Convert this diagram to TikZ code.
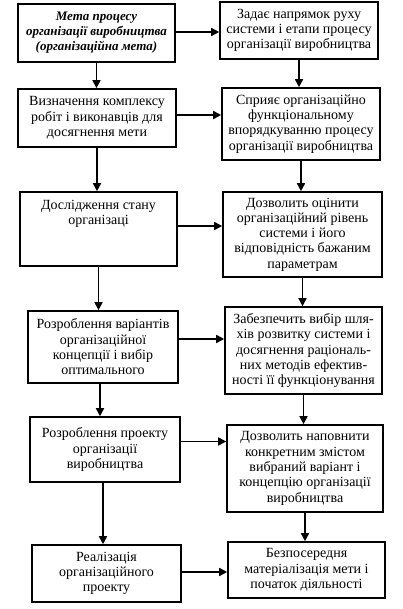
\documentclass[tikz,border=0pt]{standalone}
\usepackage{fontspec}
\setmainfont{Liberation Serif}
\usetikzlibrary{arrows.meta}
\begin{document}
\begin{tikzpicture}[x=1pt,y=-1pt,
  box/.style={draw,line width=1.6pt,inner sep=0pt,align=center,
    font=\fontsize{14}{15.3}\selectfont},
  lbl/.style={inner sep=0pt,align=center,font=\fontsize{14}{15.3}\selectfont},
  arr/.style={line width=1.6pt,-{Triangle[length=8pt,width=8pt]}}]
\useasboundingbox (0,0) rectangle (402,609);
% left column
\node[box,minimum width=157pt,minimum height=58pt,font=\fontsize{13}{15}\selectfont\bfseries\itshape] (L1) at (96.5,33)
  {Мета процесу\\організації виробництва\\(організаційна мета)};
\node[box,minimum width=158pt,minimum height=58pt] (L2) at (97,118)
  {Визначення комплексу\\робіт і виконавців для\\досягнення мети};
\node[box,minimum width=157pt,minimum height=74pt] (L3) at (98.5,229) {};
\node[lbl] (L3t) at (98.5,214) {Дослідження стану\\організаці};
\node[box,minimum width=150pt,minimum height=72pt] (L4) at (103,347)
  {Розроблення варіантів\\організаційної\\концепції і вибір\\оптимального};
\node[box,minimum width=150pt,minimum height=65pt] (L5) at (105,449.5)
  {Розроблення проекту\\організації\\виробництва};
\node[box,minimum width=149pt,minimum height=57pt] (L6) at (106.5,573.5)
  {Реалізація\\організаційного\\проекту};
% right column
\node[box,minimum width=158pt,minimum height=57pt] (R1) at (299,30.5)
  {Задає напрямок руху\\системи і етапи процесу\\організації виробництва};
\node[box,minimum width=158pt,minimum height=72pt] (R2) at (301,124)
  {Сприяє організаційно\\функціональному\\впорядкуванню процесу\\організації виробництва};
\node[box,minimum width=159pt,minimum height=85pt] (R3) at (302.5,234.5)
  {Дозволить оцінити\\організаційний рівень\\системи і його\\відповідність бажаним\\параметрам};
\node[box,minimum width=157pt,minimum height=87pt] (R4) at (303.5,350.5)
  {Забезпечить вибір шля-\\хів розвитку системи і\\досягнення раціональ-\\них методів ефектив-\\ності її функціонування};
\node[box,minimum width=156pt,minimum height=87pt] (R5) at (305,468.5)
  {Дозволить наповнити\\конкретним змістом\\вибраний варіант і\\концепцію організації\\виробництва};
\node[box,minimum width=157pt,minimum height=56pt] (R6) at (306.5,570)
  {Безпосередня\\матеріалізація мети і\\початок діяльності};
% horizontal arrows
\draw[arr] ([yshift=1pt]L1.east) -- ([yshift=1pt]L1.east -| R1.west);
\draw[arr] ([yshift=3pt]L2.east) -- ([yshift=3pt]L2.east -| R2.west);
\draw[arr] ([yshift=3pt]L3.east) -- ([yshift=3pt]L3.east -| R3.west);
\draw[arr] ([yshift=8pt]L4.east) -- ([yshift=8pt]L4.east -| R4.west);
\draw[arr] ([yshift=8pt]L5.east) -- ([yshift=8pt]L5.east -| R5.west);
\draw[arr] ([yshift=1.5pt]L6.east) -- ([yshift=1.5pt]L6.east -| R6.west);
% vertical arrows
\draw[arr] (L1.south) -- (L1.south |- L2.north);
\draw[arr] (L2.south) -- (L2.south |- L3.north);
\draw[arr] (L3.south) -- (L3.south |- L4.north);
\draw[arr] ([xshift=-3pt]L4.south) -- ([xshift=-3pt]L4.south |- L5.north);
\draw[arr] ([xshift=-2pt]L5.south) -- ([xshift=-2pt]L5.south |- L6.north);
\draw[arr] (R1.south) -- (R1.south |- R2.north);
\draw[arr] (R2.south) -- (R2.south |- R3.north);
\draw[arr] (R3.south) -- (R3.south |- R4.north);
\draw[arr] (R4.south) -- (R4.south |- R5.north);
\draw[arr] (R5.south) -- (R5.south |- R6.north);
\end{tikzpicture}
\end{document}
